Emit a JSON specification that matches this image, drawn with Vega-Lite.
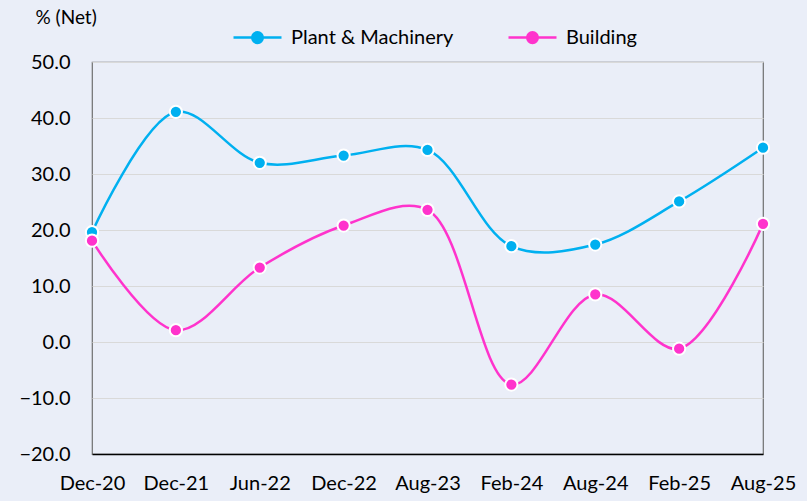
{
  "$schema": "https://vega.github.io/schema/vega-lite/v6.json",
  "width": 671,
  "height": 392,
  "autosize": {"type": "none"},
  "padding": {"left": 92, "top": 62, "right": 44, "bottom": 47},
  "background": "#eaeef8",
  "config": {
    "font": "Lato",
    "view": {"stroke": "#6f6f6f", "strokeWidth": 1.2},
    "axis": {"labelFont": "Lato", "labelFontSize": 20, "labelColor": "#000000", "titleFont": "Lato"}
  },
  "data": {
    "values": [
      {"period": "Dec-20", "series": "Plant & Machinery", "value": 19.6},
      {"period": "Dec-21", "series": "Plant & Machinery", "value": 41.1},
      {"period": "Jun-22", "series": "Plant & Machinery", "value": 32.0},
      {"period": "Dec-22", "series": "Plant & Machinery", "value": 33.3},
      {"period": "Aug-23", "series": "Plant & Machinery", "value": 34.3},
      {"period": "Feb-24", "series": "Plant & Machinery", "value": 17.1},
      {"period": "Aug-24", "series": "Plant & Machinery", "value": 17.4},
      {"period": "Feb-25", "series": "Plant & Machinery", "value": 25.1},
      {"period": "Aug-25", "series": "Plant & Machinery", "value": 34.7},
      {"period": "Dec-20", "series": "Building", "value": 18.1},
      {"period": "Dec-21", "series": "Building", "value": 2.1},
      {"period": "Jun-22", "series": "Building", "value": 13.3},
      {"period": "Dec-22", "series": "Building", "value": 20.8},
      {"period": "Aug-23", "series": "Building", "value": 23.6},
      {"period": "Feb-24", "series": "Building", "value": -7.6},
      {"period": "Aug-24", "series": "Building", "value": 8.5},
      {"period": "Feb-25", "series": "Building", "value": -1.2},
      {"period": "Aug-25", "series": "Building", "value": 21.1}
    ]
  },
  "encoding": {
    "x": {
      "field": "period",
      "type": "ordinal",
      "sort": null,
      "scale": {"type": "point", "padding": 0},
      "axis": {
        "title": null,
        "labelAngle": 0,
        "ticks": false,
        "grid": false,
        "domainColor": "#000000",
        "domainWidth": 1.5,
        "labelPadding": 19
      }
    },
    "y": {
      "field": "value",
      "type": "quantitative",
      "scale": {"domain": [-20, 50], "nice": false, "zero": false},
      "axis": {
        "values": [-20, -10, 0, 10, 20, 30, 40, 50],
        "format": ".1f",
        "ticks": false,
        "domain": false,
        "gridColor": "#d9d9d9",
        "gridWidth": 1.2,
        "labelPadding": 22,
        "title": "% (Net)",
        "titleAngle": 0,
        "titleAlign": "left",
        "titleBaseline": "middle",
        "titleX": -57,
        "titleY": -45,
        "titleFontSize": 19,
        "titleFontWeight": "normal",
        "titleColor": "#000000"
      }
    },
    "color": {
      "field": "series",
      "type": "nominal",
      "sort": ["Plant & Machinery", "Building"],
      "scale": {"domain": ["Plant & Machinery", "Building"], "range": ["#00b0f0", "#ff33cc"]},
      "legend": {
        "title": null,
        "orient": "none",
        "direction": "horizontal",
        "legendX": 140,
        "legendY": -50,
        "labelFontSize": 20,
        "labelFont": "Lato",
        "labelColor": "#000000",
        "labelLimit": 400,
        "symbolType": "M-1,0L1,0M-0.22,0A0.22,0.22 0 1 1 0.22,0A0.22,0.22 0 1 1 -0.22,0",
        "symbolSize": 2304,
        "symbolStrokeWidth": 2.5,
        "labelOffset": 8,
        "columnPadding": 49
      }
    }
  },
  "layer": [
    {
      "mark": {"type": "line", "interpolate": "catmull-rom", "strokeWidth": 2.5},
      "encoding": {"detail": {"field": "series"}}
    },
    {
      "mark": {"type": "point", "filled": true, "size": 150, "stroke": "#ffffff", "strokeWidth": 2, "opacity": 1, "strokeOpacity": 1, "fillOpacity": 1},
      "encoding": {"fill": {"field": "series", "type": "nominal", "legend": null, "scale": {"domain": ["Plant & Machinery", "Building"], "range": ["#00b0f0", "#ff33cc"]}}}
    }
  ]
}
